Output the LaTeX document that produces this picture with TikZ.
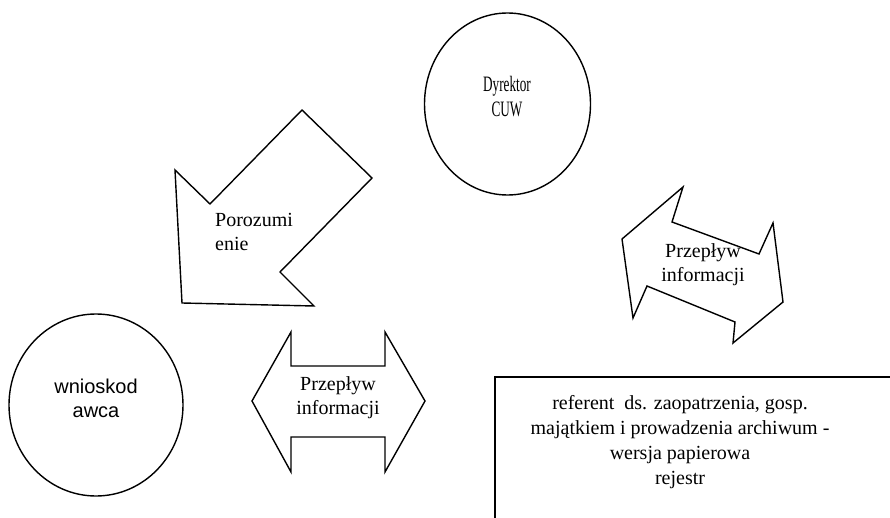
\documentclass[tikz,border=0pt]{standalone}
\usepackage{fontspec}
\setmainfont{Liberation Serif}
\newfontfamily\wsans{Liberation Sans}
\newfontfamily\wnarrow[FakeStretch=0.6]{Liberation Serif}
\usetikzlibrary{positioning, shapes.geometric}

\tikzset{
    outline/.style = {draw = black, line width = 1.4pt, line join = miter},
    txt/.style = {font = \fontsize{20}{24}\selectfont, align = center, inner sep = 0pt},
    circ/.style = {draw = black, line width = 1.4pt, ellipse, inner sep = 0pt}
}

\begin{document}
\begin{tikzpicture}[x = 1pt, y = -1pt]
        \useasboundingbox (0,0) rectangle (890,518) ;
        \clip (0,0) rectangle (890,518) ;

        % circles
        \node [circ, minimum width = 166pt, minimum height = 182pt] (dyrektor) at (507.5,104) {} ;
        \node [txt, font = \wnarrow\fontsize{22}{25}\selectfont] (ndyrektor) at (507,97) {Dyrektor\\CUW} ;
        \node [circ, minimum width = 174pt, minimum height = 182pt] (wniosk) at (96,405) {} ;
        \node [txt, font = \wsans\fontsize{20}{24}\selectfont] (nwniosk) at (96,398) {wnioskod\\awca} ;

        % agreement arrow
        \draw [outline] (302,110) -- (372,178) -- (280,272) -- (314,306) -- (182,303) -- (175,170) -- (210,204) -- cycle ;
        \node [txt, align = left, anchor = west] (nporoz) at (215,232) {Porozumi\\enie} ;

        % information flow, right
        \draw [outline] (622,239) -- (683,187) -- (672,222) -- (759,254) -- (773,223) -- (783,302) -- (733,343) -- (735,322) -- (647,286) -- (633,318) -- cycle ;
        \node [txt] (nflow1) at (703,265) {Przepływ\\informacji} ;

        % information flow, middle
        \draw [outline] (252,401) -- (291,332) -- (291,366) -- (385,366) -- (385,332) -- (425,401) -- (385,472) -- (385,437) -- (291,437) -- (291,472) -- cycle ;
        \node [txt] (nflow2) at (338,398) {Przepływ\\informacji} ;

        % clerk box
        \draw [draw = black, line width = 1.8pt] (900,377) -- (495,377) -- (495,530) ;
        \node [txt, font = \fontsize{20}{25}\selectfont] (referent) at (680,442) {referent\ \ ds. zaopatrzenia, gosp.\\majątkiem i prowadzenia archiwum -\\wersja papierowa\\rejestr} ;
    \end{tikzpicture}
\end{document}
